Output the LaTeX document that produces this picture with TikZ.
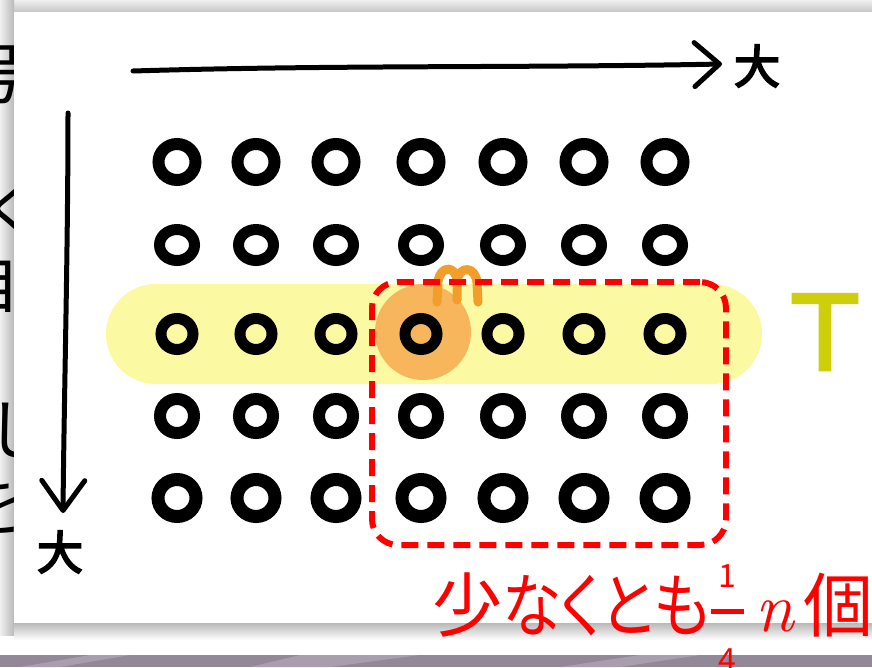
\documentclass[tikz,border=0pt]{standalone}
\usepackage{graphicx}
\usepackage{fontspec}
\newfontfamily\cjk[RawFeature=+palt]{Noto Sans CJK JP}
\newfontfamily\cjkplain{Noto Sans CJK JP}
\newfontfamily\cjkbold[FakeBold=4]{Noto Sans CJK JP}
\newfontfamily\tfont[FakeBold=2.5]{DejaVu Sans}
\usetikzlibrary{arrows.meta,shapes.geometric}
\definecolor{bandyellow}{RGB}{252,249,163}
\definecolor{discorange}{RGB}{247,181,92}
\definecolor{markorange}{RGB}{241,158,42}
\definecolor{tyellow}{RGB}{206,206,10}
\definecolor{bandpurple}{RGB}{146,136,151}
\definecolor{streak}{RGB}{168,158,173}
\newcommand\quarterfrac{%
  \makebox[35pt][c]{\raisebox{44pt}{\cjkplain\fontsize{32}{32}\selectfont 1}}\hspace{-35pt}%
  \makebox[35pt][c]{\rule[17pt]{33pt}{5pt}}\hspace{-35pt}%
  \makebox[35pt][c]{\raisebox{-40pt}{\cjkplain\fontsize{32}{32}\selectfont 4}}}
\tikzset{
  dot/.style={draw=black, ellipse, inner sep=0pt},
  axisline/.style={line width=5pt, line cap=round, black},
  biglabel/.style={font=\cjkbold\fontsize{46}{46}\selectfont, inner sep=0pt},
  hiddentext/.style={font=\cjkplain\fontsize{66}{66}\selectfont, inner sep=0pt, anchor=west, black},
}
\begin{document}
\begin{tikzpicture}[x=1pt,y=-1pt]
\useasboundingbox (0,0) rectangle (872,667);
\fill[white] (0,0) rectangle (872,667);
% shadows around the panel
\shade[top color=gray!12, bottom color=gray!45] (0,0) rectangle (872,12);
\shade[left color=gray!12, right color=gray!55] (0,0) rectangle (14,635);
% text of the slide behind the panel
\begin{scope}
  \clip (0,0) rectangle (14,635);
  \node[hiddentext] (h1) at (-40,75) {号};
  \node[hiddentext] (h2) at (-20,210) {く};
  \node[hiddentext] (h3) at (-46,282) {自};
  \node[hiddentext] (h4) at (-14,430) {し};
  \node[hiddentext] (h5) at (-40,506) {を};
\end{scope}
% panel
\fill[white] (14,12) rectangle (872,623);
\shade[top color=gray!55, bottom color=white] (14,623) rectangle (872,640);
% bottom band
\fill[bandpurple] (0,655) rectangle (872,667);
\fill[streak] (20,667) -- (90,655) -- (130,655) -- (60,667) -- cycle;
\fill[streak] (250,667) -- (300,655) -- (420,655) -- (330,667) -- cycle;
\fill[streak] (560,667) -- (640,655) -- (700,655) -- (620,667) -- cycle;

% highlighted row
\node[fill=bandyellow, rounded corners=50pt, minimum width=656pt, minimum height=100pt, inner sep=0pt] (band) at (434,334) {};
\node[fill=discorange, circle, minimum size=96pt, inner sep=0pt] (disc) at (423,332) {};
\draw[markorange, line width=9pt, line cap=round, line join=round]
  (437,302) -- (438,282) .. controls (440,265) and (456,265) .. (457,281) -- (457,300);
\draw[markorange, line width=9pt, line cap=round, line join=round]
  (457,281) .. controls (459,265) and (476,266) .. (477,283) -- (478,302);

% grid of circles
\foreach \r/\y/\w/\h/\lw in {1/162/37/36/12, 2/245/35/31/11, 3/334/32/31/11, 4/416/34/34/12, 5/498/38/37/13} {
  \foreach \c/\x in {1/177,2/256,3/336,4/421,5/503,6/584,7/665} {
    \node[dot, minimum width=\w pt, minimum height=\h pt, line width=\lw pt] (c\r\c) at (\x,\y) {};
  }
}

% dashed quarter region
\node[draw=red, line width=6pt, dash pattern=on 17pt off 9pt, rounded corners=26pt, minimum width=354pt, minimum height=263pt, inner sep=0pt] (quarter) at (549,413.5) {};

% axes
\coordinate (hs) at (133,71);
\coordinate (he) at (722,64);
\draw[axisline, -{Straight Barb[round, length=25pt, width=44pt]}] (hs) .. controls (330,65) and (520,68) .. (he);
\node[biglabel] (xl) at (757,66) {大};
\coordinate (vs) at (68,113);
\coordinate (ve) at (63,513);
\draw[axisline, -{Straight Barb[round, length=30pt, width=43pt]}] (vs) .. controls (68,250) and (64,400) .. (ve);
\node[biglabel] (yl) at (60,552) {大};

% T label
\node[text=tyellow, font=\tfont\fontsize{104}{104}\selectfont, anchor=base, inner sep=0pt] (T) at (825,370) {T};

% count label
\node[anchor=base west, inner sep=0pt, text=red, font=\cjk\fontsize{70}{84}\selectfont] (count) at (432,631)
  {少\scalebox{0.85}[1]{なくとも}\quarterfrac\hspace{10pt}{\rmfamily\itshape n}\hspace{10pt}個};
\end{tikzpicture}
\end{document}
